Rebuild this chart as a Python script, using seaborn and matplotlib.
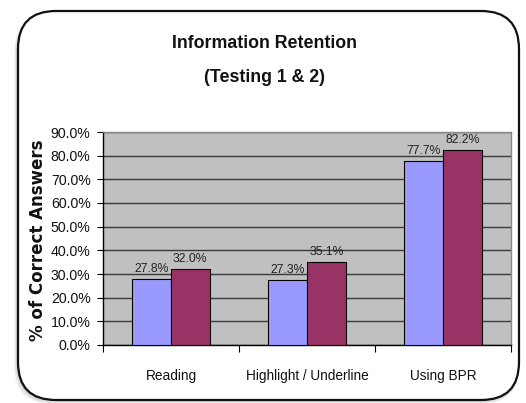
import matplotlib
matplotlib.use("Agg")
import matplotlib.pyplot as plt
import matplotlib.font_manager as fm
from matplotlib.patches import FancyBboxPatch
from matplotlib.transforms import IdentityTransform
from matplotlib.ticker import FixedLocator
import seaborn as sns
import pandas as pd

categories = ["Reading", "Highlight / Underline", "Using BPR"]
series_names = ["Testing 1", "Testing 2"]
testing1 = [27.8, 27.3, 77.7]
testing2 = [32.0, 35.1, 82.2]
y_ticks = [0, 10, 20, 30, 40, 50, 60, 70, 80, 90]
colors = ["#9999FF", "#993366"]

df = pd.DataFrame({
    "category": categories * 2,
    "series": [series_names[0]] * 3 + [series_names[1]] * 3,
    "value": testing1 + testing2,
})

sns.set_theme(style="white")
names = {f.name for f in fm.fontManager.ttflist}
narrow = "Liberation Sans Narrow" if "Liberation Sans Narrow" in names else "Liberation Sans"
plt.rcParams["font.family"] = [narrow, "DejaVu Sans"]

W, H = 526, 403
fig = plt.figure(figsize=(W / 100, H / 100), dpi=100)
fig.patch.set_facecolor("white")

# slide frame with soft shadow
for i, a in enumerate([0.05, 0.05, 0.06, 0.08]):
    off = 4 - i
    sh = FancyBboxPatch((18 - off, 3 - off), 501 + off, 389, boxstyle="round,pad=0,rounding_size=38",
                        transform=IdentityTransform(), facecolor="black", edgecolor="none",
                        alpha=a, zorder=0)
    fig.patches.append(sh)
frame = FancyBboxPatch((18, 3), 501, 389, boxstyle="round,pad=0,rounding_size=38",
                       transform=IdentityTransform(), facecolor="white", edgecolor="#111111",
                       linewidth=1.6, zorder=1)
fig.patches.append(frame)

ax = fig.add_axes([103 / W, 1 - 345 / H, (511 - 103) / W, (345 - 132) / H])
ax.set_zorder(2)
sns.barplot(data=df, x="category", y="value", hue="series", palette=colors, width=0.57,
            edgecolor="black", linewidth=0.8, saturation=1, ax=ax, legend=False, zorder=3)

ax.set_facecolor("#C0C0C0")
ax.set_ylim(0, 90)
ax.set_xlim(-0.5, 2.5)
ax.set_yticks(y_ticks)
ax.set_yticklabels([f"{v:.1f}%" for v in y_ticks], fontsize=10.2, color="#111111")
ax.yaxis.grid(True, color="#3a3a3a", linewidth=1.0, zorder=1)
ax.set_axisbelow(True)
ax.tick_params(axis="y", which="major", left=True, length=4, width=0.8, pad=5, color="black")
ax.set_xticks(range(len(categories)))
ax.set_xticklabels(categories, fontsize=9.8, color="#111111")
ax.tick_params(axis="x", which="major", length=0, pad=17)
ax.xaxis.set_minor_locator(FixedLocator([-0.5, 0.5, 1.5, 2.5]))
ax.tick_params(axis="x", which="minor", bottom=True, length=5, width=0.8, color="black")
ax.set_xlabel("")
ax.set_ylabel("")
for side in ["top", "right"]:
    ax.spines[side].set_color("#888888")
    ax.spines[side].set_linewidth(1.0)
for side in ["left", "bottom"]:
    ax.spines[side].set_color("black")
    ax.spines[side].set_linewidth(1.0)

for cont in ax.containers:
    ax.bar_label(cont, fmt="%.1f%%", padding=3, fontsize=8.8, color="#222222")

fig.text(265 / W, 1 - 44 / H, "Information Retention", ha="center", va="center",
         fontsize=12.8, fontweight="bold", color="#111111")
fig.text(265 / W, 1 - 78 / H, "(Testing 1 & 2)", ha="center", va="center",
         fontsize=12.8, fontweight="bold", color="#111111")
fig.text(38 / W, 1 - 240 / H, "% of Correct Answers", rotation=90, ha="center", va="center",
         fontsize=12, fontweight="bold", family="DejaVu Sans", color="#111111")

fig.savefig("out.png", dpi=100)
